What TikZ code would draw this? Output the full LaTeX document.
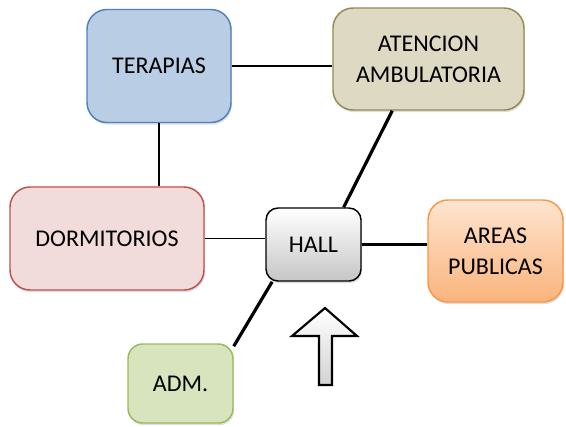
\documentclass[tikz,border=0pt]{standalone}
\usepackage{fontspec}
\setmainfont{Carlito}
\usepackage{xcolor}
\usepackage{tikz}
\usetikzlibrary{shadows}

\definecolor{azulfondo}{HTML}{B9CDE5}
\definecolor{azulborde}{HTML}{4F81BD}
\definecolor{cafefondo}{HTML}{DDD9C3}
\definecolor{cafeborde}{HTML}{948A54}
\definecolor{rojofondo}{HTML}{F2DCDB}
\definecolor{rojoborde}{HTML}{C0504D}
\definecolor{naranjaarriba}{HTML}{FDE4CF}
\definecolor{naranjaabajo}{HTML}{FAB47C}
\definecolor{naranjaborde}{HTML}{F79646}
\definecolor{verdefondo}{HTML}{D7E4BD}
\definecolor{verdeborde}{HTML}{9BBB59}

\begin{document}
\begin{tikzpicture}[x=0.75pt,y=-0.75pt,
  bloque/.style={draw,rounded corners=15pt,line width=1.1pt,align=center,inner sep=0pt,
    font=\fontsize{18}{23}\selectfont,
    drop shadow={opacity=0.25,shadow xshift=0.8pt,shadow yshift=-1.6pt}},
  fino/.style={line width=1.1pt},
  grueso/.style={line width=2.4pt}]
  \useasboundingbox (0,0) rectangle (566,426);
  % --- areas ---
  \node[bloque,fill=azulfondo,draw=azulborde,minimum width=108pt,minimum height=84.75pt] (terapias) at (159,66) {TERAPIAS};
  \node[bloque,fill=cafefondo,draw=cafeborde,minimum width=143.25pt,minimum height=76.5pt] (atencion) at (428.5,59) {ATENCION\\AMBULATORIA};
  \node[bloque,fill=rojofondo,draw=rojoborde,minimum width=145.5pt,minimum height=77.25pt] (dormitorios) at (107,238.5) {DORMITORIOS};
  \node[bloque,rounded corners=9pt,top color=white,bottom color=gray!45,draw=black,minimum width=71.25pt,minimum height=54.75pt] (hall) at (313.5,244.5) {HALL};
  \node[bloque,top color=naranjaarriba,bottom color=naranjaabajo,draw=naranjaborde,minimum width=101.25pt,minimum height=76.5pt] (areas) at (495.5,251) {AREAS\\PUBLICAS};
  \node[bloque,rounded corners=11pt,fill=verdefondo,draw=verdeborde,minimum width=78.75pt,minimum height=59.25pt] (adm) at (180.5,383.5) {ADM.};
  % --- conexiones ---
  \draw[fino] (terapias.east) -- (terapias.east -| atencion.west);
  \draw[fino] (terapias.south) -- (terapias.south |- dormitorios.north);
  \draw[fino] (dormitorios.east) -- (dormitorios.east -| hall.west);
  \draw[grueso] (hall.east) -- (hall.east -| areas.west);
  \draw[grueso] (hall.51) -- (atencion.235);
  \draw[grueso] (hall.222) -- (adm.35);
  % --- entrada ---
  \draw[line width=1.6pt,top color=white,bottom color=gray!35,line join=miter]
    (325,308) -- (357,336) -- (332,336) -- (332,385) -- (319,385) -- (319,336) -- (292,336) -- cycle;
\end{tikzpicture}
\end{document}
